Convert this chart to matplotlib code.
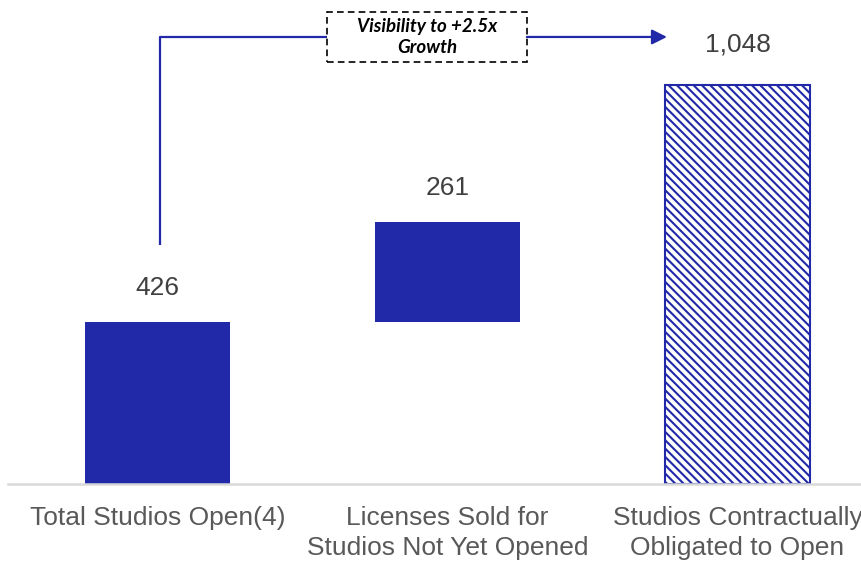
import matplotlib
matplotlib.use("Agg")
import matplotlib.pyplot as plt
from matplotlib.patches import Rectangle

categories = ["Total Studios Open(4)",
              "Licenses Sold for\nStudios Not Yet Opened",
              "Studios Contractually\nObligated to Open"]
values = [426, 261, 1048]
value_labels = ["426", "261", "1,048"]
callout = "Visibility to +2.5x\nGrowth"

NAVY = "#2229a8"
GREY_TXT = "#595959"

plt.rcParams["font.family"] = ["Liberation Sans", "DejaVu Sans"]
plt.rcParams["hatch.linewidth"] = 1.5
plt.rcParams["hatch.color"] = NAVY

fig = plt.figure(figsize=(8.61, 5.62), dpi=100)
ax = fig.add_axes([8 / 861, 78 / 562, 853 / 861, 484 / 562])

x = list(range(len(values)))
bottoms = [0, values[0], 0]
w = 0.5
ax.bar(x[0], values[0], w, bottom=bottoms[0], color=NAVY, linewidth=0)
ax.bar(x[1], values[1], w, bottom=bottoms[1], color=NAVY, linewidth=0)
ax.bar(x[2], values[2], w, bottom=bottoms[2], facecolor="white",
       edgecolor=NAVY, hatch="\\\\\\\\", linewidth=1.5)

offsets = [34, 34, 40]
for xi, b, v, lab, off in zip(x, bottoms, values, value_labels, offsets):
    ax.annotate(lab, (xi, b + v), xytext=(0, off), textcoords="offset pixels",
                ha="center", va="center", fontsize=19, color="#404040")

ax.set_xlim(-0.515, 2.426)
ax.set_ylim(0, 1270)
ax.set_xticks(x)
ax.set_xticklabels(categories, fontsize=19, color=GREY_TXT, linespacing=1.33)
ax.tick_params(axis="x", length=0, pad=16)
ax.set_yticks([])
for s in ["top", "right", "left"]:
    ax.spines[s].set_visible(False)
ax.spines["bottom"].set_color("#d9d9d9")
ax.spines["bottom"].set_linewidth(1.8)

# growth callout: elbow connector from the first bar to the last
y_line = 1173
ax.plot([0.01, 0.01, 0.584], [627, y_line, y_line], color=NAVY, lw=1.6,
        solid_capstyle="butt", clip_on=False)
ax.annotate("", xy=(1.757, y_line), xytext=(1.274, y_line),
            arrowprops=dict(arrowstyle="-|>,head_length=0.9,head_width=0.45",
                            color=NAVY, lw=1.6, shrinkA=0, shrinkB=0),
            annotation_clip=False)
ax.add_patch(Rectangle((0.584, 1108), 0.69, 131, facecolor="white",
                       edgecolor="black", linestyle=(0, (4, 2.5)), lw=1.2,
                       clip_on=False))
ax.text(0.929, 1173, callout, ha="center", va="center", fontsize=13.5,
        family=["Lato", "DejaVu Sans"], fontweight="bold", style="italic",
        linespacing=1.35)

fig.savefig("out.png", dpi=100, facecolor="white")
